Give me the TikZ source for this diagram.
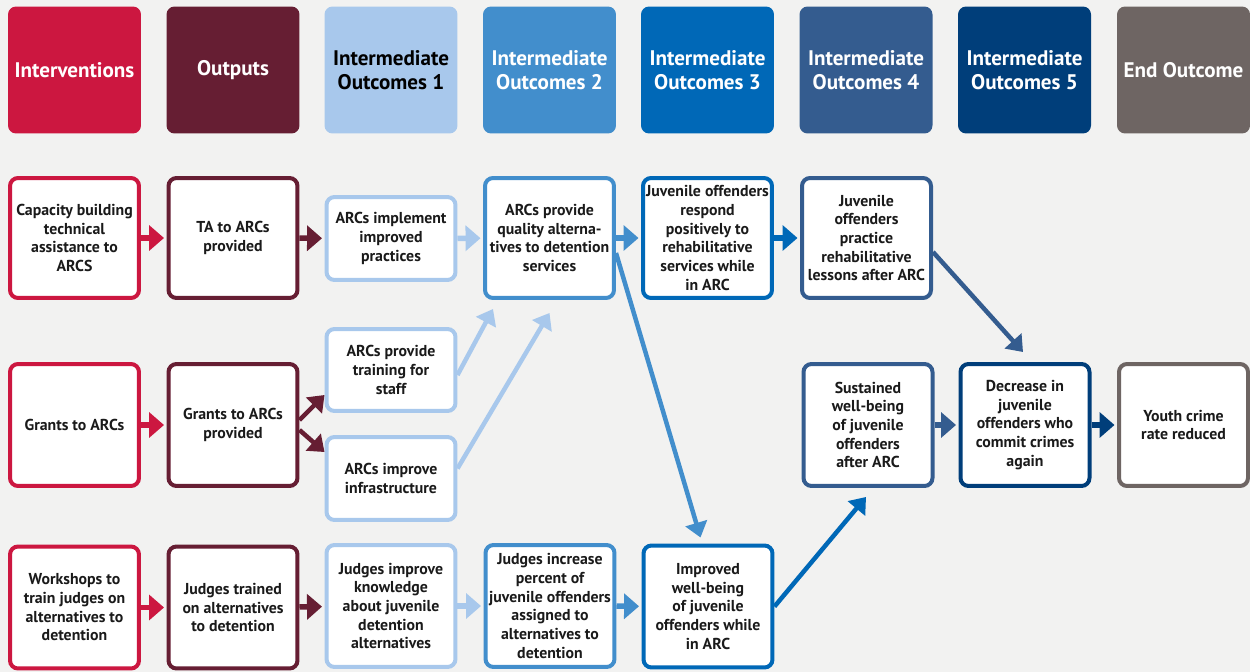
\documentclass[tikz,border=0pt]{standalone}
\usepackage{fontspec}
\setmainfont{PT Sans}
\usetikzlibrary{arrows.meta}
\definecolor{cBg}{RGB}{242,242,241}
\definecolor{cInt}{RGB}{204,23,64}
\definecolor{cOut}{RGB}{102,30,51}
\definecolor{cA}{RGB}{168,200,236}
\definecolor{cB}{RGB}{66,142,204}
\definecolor{cC}{RGB}{0,104,183}
\definecolor{cD}{RGB}{52,92,143}
\definecolor{cE}{RGB}{0,62,122}
\definecolor{cF}{RGB}{110,101,99}
\definecolor{cTxt}{RGB}{26,26,26}
\tikzset{
  hdr/.style={rectangle, rounded corners=0.16cm, minimum width=2.66cm, minimum height=2.54cm,
    inner sep=0pt, align=center, text=white, font=\fontsize{12}{13.6}\selectfont\bfseries},
  bx/.style={rectangle, rounded corners=0.16cm, fill=white, line width=0.08cm, minimum width=2.58cm,
    inner sep=0pt, align=center, text=cTxt, font=\fontsize{9}{10.6}\selectfont\bfseries},
  arr/.style={line width=0.11cm, -{Triangle[length=0.3cm, width=0.5cm]}, shorten >=0.05cm},
  darr/.style={line width=0.09cm, -{Triangle[length=0.3cm, width=0.44cm]}, shorten >=0pt},
}
\begin{document}
\begin{tikzpicture}[x=0.02cm,y=-0.02cm]
\useasboundingbox[fill=cBg] (0,0) rectangle (1250,672);
% headers
\node[hdr, fill=cInt] (h1) at (74.5,70) {Interventions};
\node[hdr, fill=cOut] (h2) at (233,70) {Outputs};
\node[hdr, fill=cA, text=black] (h3) at (391,70) {Intermediate\\Outcomes 1};
\node[hdr, fill=cB] (h4) at (549.5,70) {Intermediate\\Outcomes 2};
\node[hdr, fill=cC] (h5) at (707.5,70) {Intermediate\\Outcomes 3};
\node[hdr, fill=cD] (h6) at (866,70) {Intermediate\\Outcomes 4};
\node[hdr, fill=cE] (h7) at (1024.5,70) {Intermediate\\Outcomes 5};
\node[hdr, fill=cF] (h8) at (1183.5,70) {End Outcome};
% row 1
\node[bx, draw=cInt, minimum height=2.4cm] (i1) at (74.5,238) {Capacity building\\technical\\assistance to\\ARCS};
\node[bx, draw=cOut, minimum height=2.4cm] (o1) at (233,238) {TA to ARCs\\provided};
\node[bx, draw=cA, minimum height=1.66cm] (a1) at (391,238.5) {ARCs implement\\improved\\practices};
\node[bx, draw=cB, minimum height=2.4cm] (b1) at (549.5,238) {ARCs provide\\quality alterna-\\tives to detention\\services};
\node[bx, draw=cC, minimum height=2.4cm] (c1) at (707.5,238) {Juvenile offenders\\respond\\positively to\\rehabilitative\\services while\\in ARC};
\node[bx, draw=cD, minimum height=2.4cm] (d1) at (866.5,238) {Juvenile\\offenders\\practice\\rehabilitative\\lessons after ARC};
% row 2
\node[bx, draw=cInt, minimum height=2.44cm] (i2) at (74.5,425) {Grants to ARCs};
\node[bx, draw=cOut, minimum height=2.44cm] (o2) at (233,425) {Grants to ARCs\\provided};
\node[bx, draw=cA, minimum height=1.64cm] (tr) at (391,370) {ARCs provide\\training for\\staff};
\node[bx, draw=cA, minimum height=1.66cm] (inf) at (391,478.5) {ARCs improve\\infrastructure};
\node[bx, draw=cD, minimum height=2.44cm] (sus) at (868,425) {Sustained\\well-being\\of juvenile\\offenders\\after ARC};
\node[bx, draw=cE, minimum height=2.44cm] (dec) at (1025,425) {Decrease in\\juvenile\\offenders who\\commit crimes\\again};
\node[bx, draw=cF, minimum height=2.44cm] (yo) at (1183.5,425) {Youth crime\\rate reduced};
% row 3
\node[bx, draw=cInt, minimum height=2.44cm] (i3) at (74.5,607.5) {Workshops to\\train judges on\\alternatives to\\detention};
\node[bx, draw=cOut, minimum height=2.44cm] (o3) at (233,607.5) {Judges trained\\on alternatives\\to detention};
\node[bx, draw=cA, minimum height=2.44cm] (a3) at (391,606) {Judges improve\\knowledge\\about juvenile\\detention\\alternatives};
\node[bx, draw=cB, minimum height=2.44cm] (b3) at (550,606) {Judges increase\\percent of\\juvenile offenders\\assigned to\\alternatives to\\detention};
\node[bx, draw=cC, minimum height=2.44cm] (imp) at (708,606.5) {Improved\\well-being\\of juvenile\\offenders while\\in ARC};
% horizontal arrows
\draw[arr, cInt] (i1) -- (o1);
\draw[arr, cOut] (o1) -- (a1);
\draw[arr, cA] (a1) -- (b1);
\draw[arr, cB] (b1) -- (c1);
\draw[arr, cC] (c1) -- (d1);
\draw[arr, cInt] (i2) -- (o2);
\draw[arr, cD] (sus) -- (dec);
\draw[arr, cE] (dec) -- (yo);
\draw[arr, cInt] (i3) -- (o3);
\draw[arr, cOut] (o3) -- (a3);
\draw[arr, cA] (a3) -- (b3);
\draw[arr, cB] (b3) -- (imp);
% split arrows
\draw[darr, cOut] ([yshift=0.1cm]o2.east) -- ([yshift=-0.5cm]tr.west);
\draw[darr, cOut] ([yshift=-0.1cm]o2.east) -- ([yshift=0.53cm]inf.west);
% diagonal arrows
\draw[darr, cA] ([yshift=-0.1cm]tr.east) -- ([xshift=-1.13cm,yshift=-0.18cm]b1.south);
\draw[darr, cA] ([yshift=0.2cm]inf.east) -- ([yshift=-0.26cm]b1.south);
\draw[darr, cB] ([yshift=-0.3cm]b1.east) -- ([xshift=-0.15cm,yshift=0.12cm]imp.north);
\draw[darr, cD] ([yshift=-0.28cm]d1.east) -- ([xshift=-0.04cm,yshift=0.2cm]dec.north);
\draw[darr, cC] (imp.east) -- ([xshift=-0.04cm,yshift=-0.18cm]sus.south);
\end{tikzpicture}
\end{document}
